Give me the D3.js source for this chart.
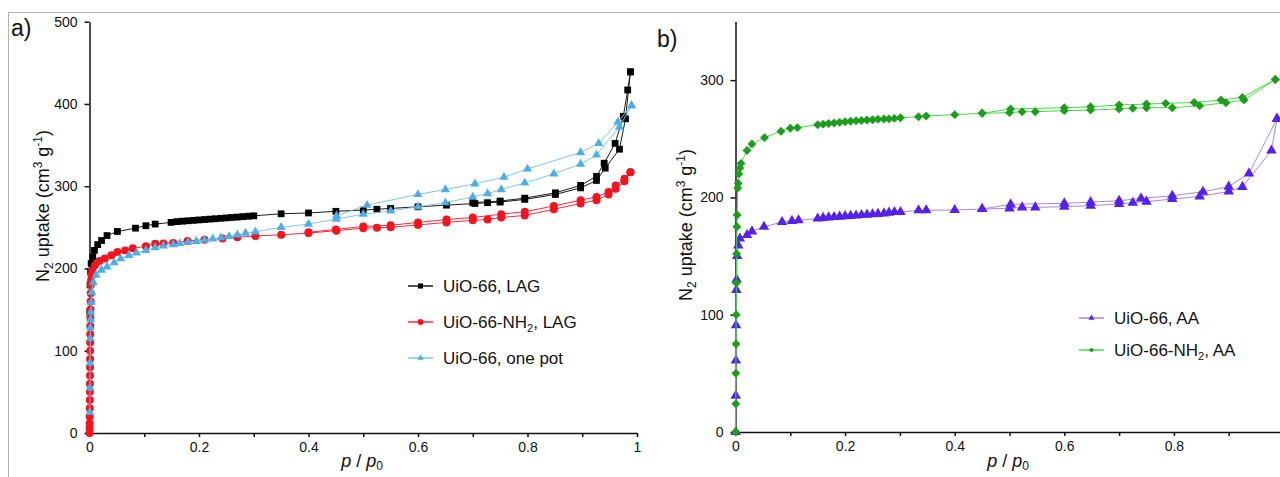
<!DOCTYPE html>
<html lang="en">
<head>
<meta charset="utf-8">
<title>N2 isotherms</title>
<script src="https://d3js.org/d3.v7.min.js"></script>
<style>
  body { margin: 0; background: #fff; }
  svg { font-family: "Liberation Sans", Arial, sans-serif; }
  .axis path, .axis line { fill: none; stroke: #111; stroke-width: 1.5; }
  .axis text { font-size: 14px; fill: #111; }
</style>
</head>
<body>
<script>
// ---- data: [p/p0, uptake] ----
// panel a
const lagAds = [[0.0005,147],[0.001,180],[0.002,196],[0.003,206],[0.006,214],[0.009,222],[0.015,229],[0.022,234],
  [0.032,240],[0.051,245],[0.084,249],[0.103,252],[0.12,254],[0.149,256],[0.16,257],[0.17,257.5],[0.18,258],
  [0.19,258.5],[0.2,259],[0.21,259.5],[0.22,260],[0.23,260.5],[0.24,261],[0.25,261.5],[0.26,262],[0.27,262.5],
  [0.28,263],[0.29,263.5],[0.3,264],[0.35,266.5],[0.4,267.5],[0.45,269.5],[0.5,271],[0.525,272],[0.55,273],
  [0.6,275],[0.652,277],[0.704,279],[0.727,280],[0.75,280.7],[0.795,284],[0.851,290],[0.897,298],[0.926,307],
  [0.942,322],[0.968,345],[0.979,382],[0.988,439]];
const lagDes = [[0.988,439],[0.983,417],[0.975,385],[0.96,352],[0.94,328],[0.926,312],[0.897,301],[0.851,292],
  [0.795,285.5],[0.75,282],[0.7,280]];

const nh2LagAds = [[0.0001,0],[0.0002,6],[0.0003,12],[0.0004,20],[0.0005,30],[0.0006,40],[0.0007,50],[0.0008,60],
  [0.0009,70],[0.001,80],[0.0011,90],[0.0012,100],[0.0013,110],[0.0014,120],[0.0015,130],[0.0016,140],
  [0.0018,150],[0.002,160],[0.0022,170],[0.0025,180],[0.003,186],[0.0035,192],[0.005,198],[0.01,204],
  [0.018,209],[0.028,212],[0.04,216],[0.051,220],[0.065,222],[0.079,224.5],[0.103,227],[0.12,230],[0.135,230.5],
  [0.153,231],[0.179,233.5],[0.21,235],[0.243,236.5],[0.27,238],[0.303,239.5],[0.35,241],[0.4,243],[0.451,246],
  [0.5,249],[0.525,249.5],[0.55,250],[0.6,253],[0.652,256],[0.7,258.5],[0.727,259.5],[0.752,262],[0.795,264.5],
  [0.848,272],[0.897,279],[0.926,283],[0.948,290],[0.961,297],[0.977,306],[0.988,317]];
const nh2LagDes = [[0.988,317],[0.977,309],[0.961,301],[0.948,293],[0.926,287],[0.897,283],[0.848,276],
  [0.795,269],[0.752,266],[0.7,262],[0.652,259.5],[0.6,256],[0.55,252.5],[0.5,251],[0.45,247.5],[0.4,244]];

const onePotAds = [[0.0005,25],[0.0008,55],[0.001,85],[0.0013,115],[0.0015,128],[0.002,138],[0.0025,147],
  [0.003,159],[0.004,171],[0.007,183],[0.012,192],[0.022,198],[0.032,202],[0.045,207],[0.057,212],[0.072,216],
  [0.086,219],[0.103,222],[0.12,225.5],[0.135,227.5],[0.153,229],[0.165,230.5],[0.18,232],[0.195,233],
  [0.21,234.5],[0.225,236],[0.24,237.5],[0.255,239],[0.27,241],[0.285,243],[0.303,244.5],[0.35,250],[0.4,254],
  [0.451,260],[0.5,266],[0.55,270],[0.6,275],[0.65,280],[0.7,287],[0.727,291],[0.752,296],[0.795,304],
  [0.848,315],[0.897,327],[0.926,338],[0.968,372],[0.99,398]];
const onePotDes = [[0.99,398],[0.965,378],[0.93,352],[0.897,341],[0.8,321],[0.757,311],[0.704,303],[0.65,296],
  [0.6,290],[0.507,277],[0.451,264]];

// panel b
const aaAds = [[0.0003,0],[0.0005,31],[0.0008,61],[0.001,91],[0.0015,121],[0.002,130],[0.003,150],[0.005,159],
  [0.008,165],[0.021,168],[0.03,171],[0.052,175],[0.085,179],[0.103,180],[0.115,180.5],[0.15,182],[0.16,182.5],
  [0.17,183],[0.18,183.3],[0.19,183.6],[0.2,184],[0.21,184.3],[0.22,184.6],[0.23,185],[0.24,185.3],[0.25,185.6],
  [0.26,186],[0.271,186.4],[0.28,187],[0.29,187.6],[0.301,187.6],[0.334,189],[0.348,189],[0.4,189.3],
  [0.45,190.1],[0.5,190.7],[0.523,191.5],[0.547,191.5],[0.6,192.1],[0.648,193],[0.7,194.4],[0.725,195.5],
  [0.75,196.4],[0.797,198.6],[0.847,200.9],[0.9,205],[0.925,209],[0.978,240],[0.988,267]];
const aaDes = [[0.988,267],[0.937,220.5],[0.9,209.2],[0.853,204.8],[0.797,201.4],[0.74,199.2],[0.7,197.2],
  [0.648,196],[0.6,195],[0.502,194.1],[0.45,190.1]];

const nh2AaAds = [[0.0003,0],[0.0005,24],[0.0007,50],[0.001,75],[0.0012,100],[0.0015,127],[0.002,152],
  [0.0025,175],[0.003,185],[0.004,208],[0.005,212],[0.006,220],[0.008,225],[0.01,229],[0.021,240],[0.03,245.5],
  [0.053,251],[0.083,256.5],[0.1,259],[0.113,259.5],[0.15,262],[0.16,262.5],[0.17,263],[0.18,263.5],[0.19,264],
  [0.2,264.5],[0.21,265],[0.22,265.3],[0.23,265.6],[0.24,266],[0.25,266.3],[0.26,266.6],[0.271,266.8],[0.28,267],
  [0.29,267.4],[0.301,268],[0.334,268.8],[0.348,269.4],[0.4,270.6],[0.45,271.7],[0.5,272.3],[0.523,273.1],
  [0.547,273.1],[0.6,274],[0.648,274.5],[0.7,275.4],[0.725,276],[0.75,276.5],[0.797,276.5],[0.847,278.2],
  [0.895,280.8],[0.928,283],[0.985,300.6]];
const nh2AaDes = [[0.985,300.6],[0.925,285.3],[0.886,283],[0.837,281],[0.785,280.2],[0.75,279.6],[0.7,278.8],
  [0.648,277.3],[0.6,276.5],[0.502,275.4],[0.45,271.7]];

const xTicks = [0,0.1,0.2,0.3,0.4,0.5,0.6,0.7,0.8,0.9,1];
const yTicksA = [0,100,200,300,400,500];
const yTicksB = [0,100,200,300];

// ---- svg ----
var w = 1280, h = 477;
var svg = d3.select("body").append("svg").attr("width", w).attr("height", h);

// light frame
svg.append("path").attr("d", "M8.5,477 V12.5 H1280").attr("fill", "none").attr("stroke", "#b0b0b0");

var xA = d3.scaleLinear().domain([0, 1]).range([89.5, 637]);
var yA = d3.scaleLinear().domain([0, 500]).range([433, 21.7]);
var xB = d3.scaleLinear().domain([0, 1]).range([735.5, 1283.5]);
var yB = d3.scaleLinear().domain([0, 350]).range([432, 21.5]);

function labelFmt(d) {
  var r = Math.round(d * 10);
  return r % 2 === 0 ? d3.format("~g")(d) : "";
}

function drawAxes(x, y, yTicks, xVals) {
  svg.append("g").attr("class", "axis")
    .attr("transform", "translate(0," + y(0) + ")")
    .call(d3.axisBottom(x).tickValues(xVals).tickFormat(labelFmt).tickSize(4).tickSizeOuter(0).tickPadding(5));
  svg.append("g").attr("class", "axis")
    .attr("transform", "translate(" + x(0) + ",0)")
    .call(d3.axisLeft(y).tickValues(yTicks).tickSize(5).tickSizeOuter(0).tickPadding(7));
}

drawAxes(xA, yA, yTicksA, xTicks);
drawAxes(xB, yB, yTicksB, xTicks.slice(0, 10));

function drawSeries(x, y, branches, lineColor, markColor, sym, size, rot) {
  var line = d3.line().x(function (d) { return x(d[0]); }).y(function (d) { return y(d[1]); });
  var g = svg.append("g");
  branches.forEach(function (b) {
    g.append("path").attr("d", line(b)).attr("fill", "none")
      .attr("stroke", lineColor).attr("stroke-width", 1);
  });
  var shape = d3.symbol().type(sym).size(size);
  branches.forEach(function (b) {
    g.selectAll(null).data(b).enter().append("path")
      .attr("d", shape)
      .attr("transform", function (d) { return "translate(" + x(d[0]) + "," + y(d[1]) + ") rotate(" + rot + ")"; })
      .attr("fill", markColor);
  });
}

drawSeries(xA, yA, [lagAds, lagDes], "#1a1a1a", "#000000", d3.symbolSquare, 46, 0);
drawSeries(xA, yA, [nh2LagAds, nh2LagDes], "#ff2a3a", "#f41420", d3.symbolCircle, 50, 0);
drawSeries(xA, yA, [onePotAds, onePotDes], "#7cc6f0", "#4cade8", d3.symbolTriangle, 36, 0);

drawSeries(xB, yB, [aaAds, aaDes], "#a386f4", "#5520ea", d3.symbolTriangle, 48, 0);
drawSeries(xB, yB, [nh2AaAds, nh2AaDes], "#45dc45", "#1c9e1c", d3.symbolSquare, 40, 45);

// ---- axis titles ----
function yTitle(x, y) {
  var t = svg.append("text").attr("transform", "translate(" + x + "," + y + ") rotate(-90)")
    .attr("text-anchor", "middle").attr("font-size", 18).attr("fill", "#111");
  t.append("tspan").text("N");
  t.append("tspan").attr("font-size", 12).attr("dy", 4).text("2");
  t.append("tspan").attr("dy", -4).text(" uptake (cm");
  t.append("tspan").attr("font-size", 12).attr("dy", -7).text("3");
  t.append("tspan").attr("dy", 7).text(" g");
  t.append("tspan").attr("font-size", 12).attr("dy", -7).text("-1");
  t.append("tspan").attr("dy", 7).text(")");
}
yTitle(49, 206);
yTitle(692, 225);

function xTitle(x, y) {
  var t = svg.append("text").attr("x", x).attr("y", y).attr("text-anchor", "middle")
    .attr("font-size", 18).attr("fill", "#111");
  t.append("tspan").attr("font-style", "italic").text("p");
  t.append("tspan").text(" / ");
  t.append("tspan").attr("font-style", "italic").text("p");
  t.append("tspan").attr("font-size", 12).attr("dy", 3).text("0");
}
xTitle(362, 467);
xTitle(1008, 467);

svg.append("text").attr("x", 11).attr("y", 36).attr("font-size", 23).attr("fill", "#111").text("a)");
svg.append("text").attr("x", 657).attr("y", 47).attr("font-size", 23).attr("fill", "#111").text("b)");

// ---- legends ----
function legendRow(x0, y0, lineColor, markColor, sym, size, rot, parts) {
  svg.append("line").attr("x1", x0).attr("x2", x0 + 25).attr("y1", y0).attr("y2", y0)
    .attr("stroke", lineColor).attr("stroke-width", 1.5);
  svg.append("path").attr("d", d3.symbol().type(sym).size(size))
    .attr("transform", "translate(" + (x0 + 12.5) + "," + y0 + ") rotate(" + rot + ")")
    .attr("fill", markColor);
  var t = svg.append("text").attr("x", x0 + 35).attr("y", y0 + 6)
    .attr("font-size", 17).attr("fill", "#111");
  var shift = 0;
  parts.forEach(function (p) {
    if (p.sub) {
      t.append("tspan").attr("font-size", 11).attr("dy", 4).text(p.sub);
      shift = -4;
    } else {
      t.append("tspan").attr("dy", shift).text(p.t);
      shift = 0;
    }
  });
}
legendRow(408, 286, "#1a1a1a", "#000", d3.symbolSquare, 26, 0, [{t: "UiO-66, LAG"}]);
legendRow(408, 322, "#ff2a3a", "#f41420", d3.symbolCircle, 26, 0, [{t: "UiO-66-NH"}, {sub: "2"}, {t: ", LAG"}]);
legendRow(408, 358, "#7cc6f0", "#4cade8", d3.symbolTriangle, 16, 0, [{t: "UiO-66, one pot"}]);

legendRow(1079, 318, "#a386f4", "#5520ea", d3.symbolTriangle, 16, 0, [{t: "UiO-66, AA"}]);
legendRow(1079, 350, "#45dc45", "#1c9e1c", d3.symbolSquare, 12, 45, [{t: "UiO-66-NH"}, {sub: "2"}, {t: ", AA"}]);
</script>
</body>
</html>
